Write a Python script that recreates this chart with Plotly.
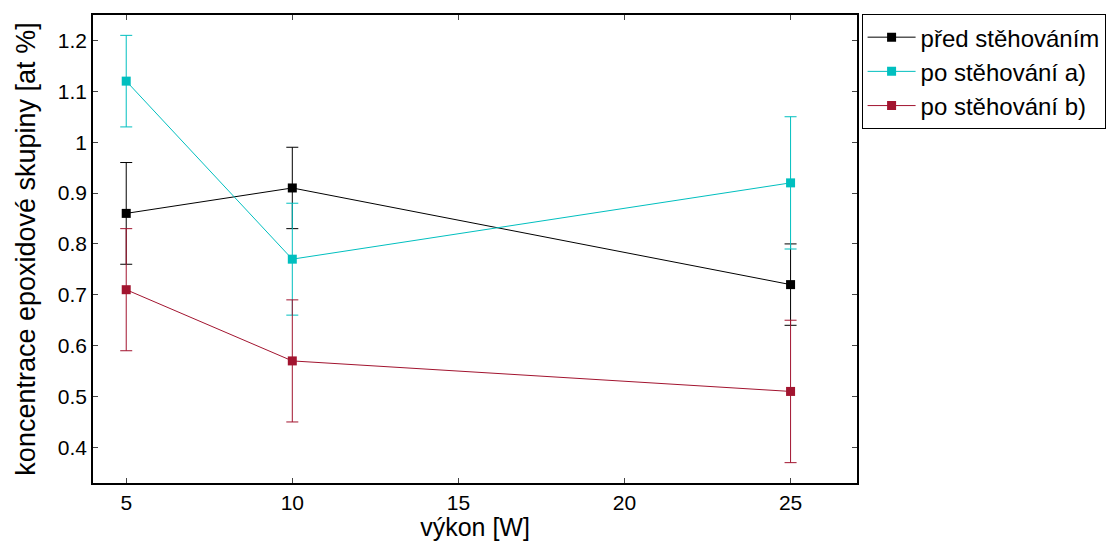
import plotly.graph_objects as go

x_vals = [5, 10, 25]
series_names = ["před stěhováním", "po stěhování a)", "po stěhování b)"]
y_pred = [0.86, 0.91, 0.72]
err_pred = [0.10, 0.08, 0.08]
y_po_a = [1.12, 0.77, 0.92]
err_po_a = [0.09, 0.11, 0.13]
y_po_b = [0.71, 0.57, 0.51]
err_po_b = [0.12, 0.12, 0.14]
colors = ["#000000", "#00BFBF", "#A2142F"]

x_ticks = [5, 10, 15, 20, 25]
y_ticks = [0.4, 0.5, 0.6, 0.7, 0.8, 0.9, 1.0, 1.1, 1.2]
y_tick_text = ["0.4", "0.5", "0.6", "0.7", "0.8", "0.9", "1", "1.1", "1.2"]

fig = go.Figure()
for name, ys, errs, c in zip(series_names, [y_pred, y_po_a, y_po_b],
                             [err_pred, err_po_a, err_po_b], colors):
    fig.add_trace(go.Scatter(
        x=x_vals, y=ys, name=name, mode="lines+markers",
        line=dict(color=c, width=1),
        marker=dict(symbol="square", size=9, color=c),
        error_y=dict(type="data", array=errs, visible=True, color=c,
                     thickness=1, width=6),
    ))

font_family = "Liberation Sans, Arial, sans-serif"
fig.update_layout(
    width=1111, height=541,
    margin=dict(l=93, r=254, t=15, b=58, autoexpand=False),
    plot_bgcolor="white", paper_bgcolor="white",
    font=dict(family=font_family, color="black"),
    showlegend=True,
    legend=dict(x=1.006, y=1.002, xanchor="left", yanchor="top",
                bordercolor="black", borderwidth=1, bgcolor="white",
                font=dict(size=24, family=font_family),
                tracegroupgap=0, itemwidth=48),
    xaxis=dict(range=[4, 27], tickvals=x_ticks, ticks="inside", ticklen=5,
               mirror="ticks", showline=True, linecolor="black", linewidth=1.5,
               showgrid=False, zeroline=False, automargin=False,
               tickfont=dict(size=21),
               title=dict(text="výkon [W]", font=dict(size=25), standoff=7)),
    yaxis=dict(range=[0.33, 1.25], tickvals=y_ticks, ticktext=y_tick_text,
               ticks="inside", ticklen=5,
               mirror="ticks", showline=True, linecolor="black", linewidth=1.5,
               showgrid=False, zeroline=False, automargin=False,
               tickfont=dict(size=21),
               title=dict(text="koncentrace epoxidové skupiny [at %]", font=dict(size=27), standoff=14)),
)

fig.write_html("out.html", config={"displayModeBar": False},
               post_script="document.body.style.margin='0';")
